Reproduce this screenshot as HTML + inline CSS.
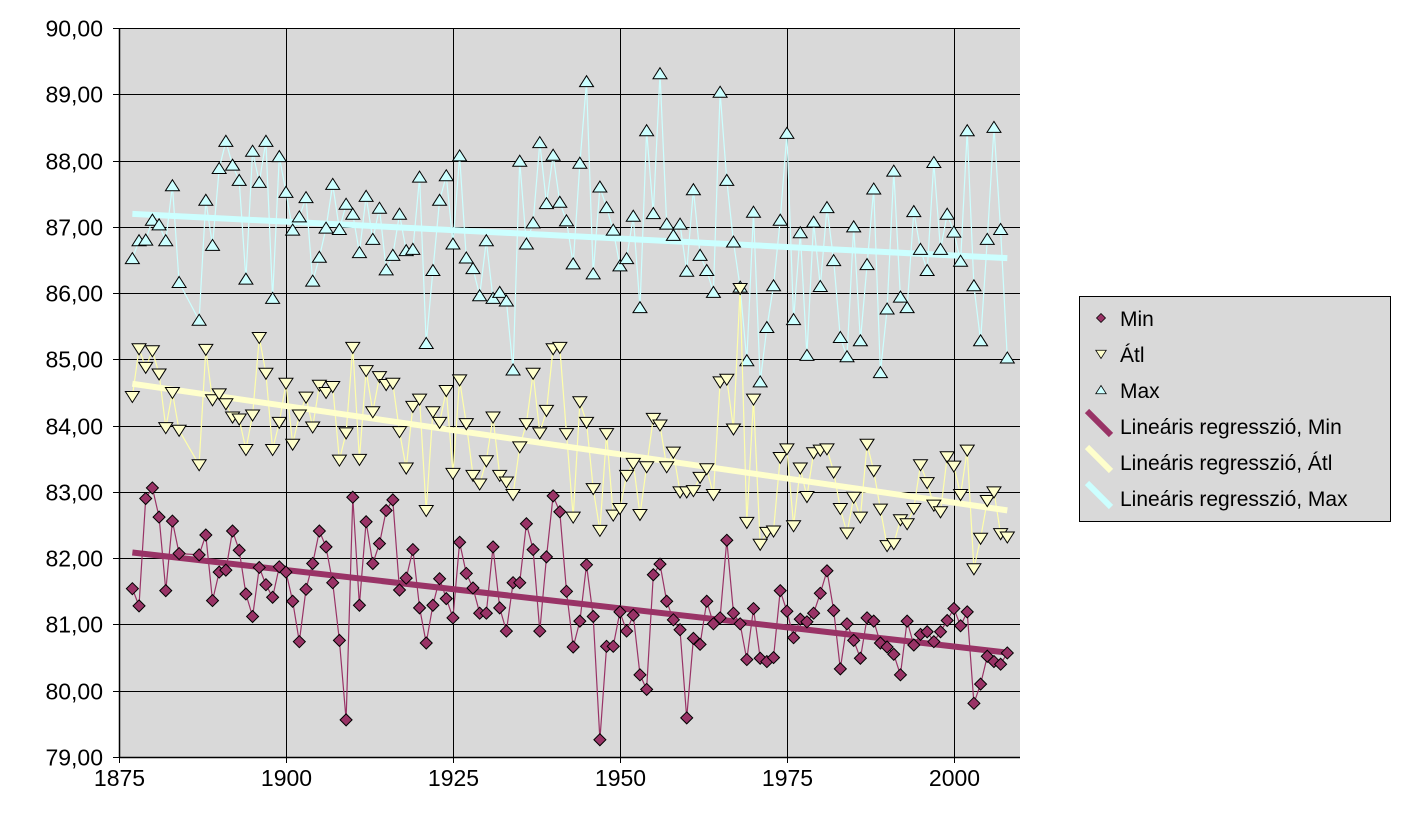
<!DOCTYPE html>
<html><head><meta charset="utf-8"><style>
body{margin:0;background:#fff;width:1416px;height:813px;overflow:hidden}
svg{display:block;font-family:"Liberation Sans",Arial,sans-serif}
</style></head><body>
<svg id="chart" width="1416" height="813" viewBox="0 0 1416 813"></svg>
<script>
const years=[1877,1878,1879,1880,1881,1882,1883,1884,1887,1888,1889,1890,1891,1892,1893,1894,1895,1896,1897,1898,1899,1900,1901,1902,1903,1904,1905,1906,1907,1908,1909,1910,1911,1912,1913,1914,1915,1916,1917,1918,1919,1920,1921,1922,1923,1924,1925,1926,1927,1928,1929,1930,1931,1932,1933,1934,1935,1936,1937,1938,1939,1940,1941,1942,1943,1944,1945,1946,1947,1948,1949,1950,1951,1952,1953,1954,1955,1956,1957,1958,1959,1960,1961,1962,1963,1964,1965,1966,1967,1968,1969,1970,1971,1972,1973,1974,1975,1976,1977,1978,1979,1980,1981,1982,1983,1984,1985,1986,1987,1988,1989,1990,1991,1992,1993,1994,1995,1996,1997,1998,1999,2000,2001,2002,2003,2004,2005,2006,2007,2008];
const maxVals=[86.52,86.79,86.80,87.10,87.03,86.79,87.62,86.16,85.59,87.40,86.72,87.88,88.29,87.93,87.70,86.21,88.14,87.67,88.29,85.92,88.06,87.52,86.95,87.15,87.44,86.18,86.54,86.98,87.64,86.96,87.34,87.19,86.61,87.46,86.81,87.28,86.35,86.57,87.19,86.64,86.66,87.75,85.24,86.34,87.40,87.77,86.74,88.07,86.53,86.37,85.96,86.79,85.92,86.01,85.88,84.84,87.99,86.74,87.06,88.27,87.35,88.08,87.37,87.09,86.44,87.96,89.19,86.29,87.60,87.29,86.95,86.41,86.52,87.16,85.78,88.45,87.20,89.31,87.04,86.87,87.04,86.33,87.56,86.57,86.34,86.01,89.03,87.70,86.77,86.09,84.98,87.22,84.66,85.48,86.11,87.10,88.41,85.60,86.91,85.06,87.07,86.10,87.29,86.49,85.33,85.04,87.00,85.28,86.43,87.57,84.80,85.76,87.84,85.94,85.78,87.23,86.66,86.34,87.97,86.66,87.19,86.92,86.48,88.45,86.11,85.28,86.81,88.50,86.96,85.02];
const atlVals=[84.44,85.16,84.88,85.13,84.78,83.97,84.50,83.93,83.41,85.15,84.39,84.48,84.33,84.13,84.10,83.64,84.16,85.33,84.79,83.64,84.05,84.64,83.72,84.16,84.43,83.98,84.61,84.50,84.59,83.48,83.89,85.18,83.49,84.83,84.21,84.74,84.62,84.64,83.91,83.36,84.29,84.40,82.72,84.21,84.05,84.53,83.28,84.69,84.03,83.25,83.12,83.47,84.13,83.25,83.15,82.96,83.68,84.03,84.79,83.89,84.23,85.16,85.18,83.88,82.62,84.36,84.05,83.05,82.42,83.88,82.65,82.75,83.25,83.43,82.66,83.38,84.11,84.01,83.38,83.60,83.00,83.00,83.02,83.22,83.35,82.96,84.66,84.70,83.95,86.07,82.54,84.40,82.21,82.39,82.41,83.52,83.65,82.49,83.36,82.93,83.59,83.63,83.65,83.30,82.75,82.38,82.92,82.62,83.72,83.32,82.74,82.19,82.22,82.58,82.52,82.75,83.41,83.14,82.80,82.70,83.53,83.39,82.96,83.63,81.84,82.30,82.87,83.00,82.37,82.32];
const minVals=[81.54,81.28,82.90,83.06,82.62,81.51,82.56,82.07,82.05,82.35,81.36,81.79,81.82,82.41,82.12,81.46,81.12,81.86,81.60,81.41,81.87,81.79,81.35,80.74,81.53,81.92,82.41,82.17,81.63,80.76,79.56,82.92,81.29,82.55,81.92,82.22,82.72,82.88,81.52,81.70,82.13,81.25,80.72,81.29,81.69,81.39,81.10,82.24,81.77,81.55,81.17,81.17,82.17,81.25,80.90,81.63,81.63,82.52,82.13,80.90,82.02,82.94,82.70,81.50,80.66,81.05,81.90,81.12,79.26,80.67,80.67,81.19,80.90,81.14,80.24,80.02,81.75,81.91,81.35,81.07,80.92,79.59,80.79,80.70,81.35,81.01,81.10,82.27,81.17,81.01,80.47,81.24,80.49,80.44,80.50,81.51,81.20,80.80,81.08,81.04,81.17,81.47,81.81,81.21,80.33,81.01,80.76,80.49,81.10,81.05,80.72,80.66,80.55,80.24,81.05,80.69,80.85,80.89,80.74,80.89,81.06,81.24,80.98,81.19,79.81,80.10,80.52,80.44,80.40,80.57];
const yTicks=[79,80,81,82,83,84,85,86,87,88,89,90];
const yTickLabels=["79,00","80,00","81,00","82,00","83,00","84,00","85,00","86,00","87,00","88,00","89,00","90,00"];
const xTicks=[1875,1900,1925,1950,1975,2000];
const xTickLabels=["1875","1900","1925","1950","1975","2000"];

const NS="http://www.w3.org/2000/svg";
const svg=document.getElementById('chart');
const L=119,R=1020,T=28,B=757,X0=1875,X1=2009.9,Y0=79,Y1=90;
const sx=v=>L+(v-X0)/(X1-X0)*(R-L);
const sy=v=>B-(v-Y0)/(Y1-Y0)*(B-T);
function mk(tag,attrs,parent){const e=document.createElementNS(NS,tag);for(const k in attrs)e.setAttribute(k,attrs[k]);(parent||svg).appendChild(e);return e;}

const bg=mk('rect',{x:L,y:T,width:R-L,height:B-T,fill:'#d9d9d9'});


const grid=mk('g',{stroke:'#000','stroke-width':1});


yTicks.forEach((t,i)=>{
  const y=Math.round(sy(t))+0.5;
  mk('line',{x1:L,x2:R,y1:y,y2:y},grid);
  mk('line',{x1:L-6,x2:L,y1:y,y2:y},grid);
  const tx=mk('text',{x:103,y:y+8,'text-anchor':'end','font-size':23,fill:'#000'});
  tx.textContent=yTickLabels[i];
  
  
});
xTicks.forEach((t,i)=>{
  const x=Math.round(sx(t))+0.5;
  mk('line',{x1:x,x2:x,y1:T,y2:B+6},grid);
  const tx=mk('text',{x:x,y:786,'text-anchor':'middle','font-size':23,fill:'#000'});
  tx.textContent=xTickLabels[i];
  
  
});
mk('line',{x1:L+0.5,x2:L+0.5,y1:T,y2:B,stroke:'#000','stroke-width':1.5});
mk('line',{x1:L,x2:R,y1:B+0.5,y2:B+0.5,stroke:'#000','stroke-width':1.5});

function regress(vals){
  const n=years.length;let mx=0,my=0;
  for(let i=0;i<n;i++){mx+=years[i];my+=vals[i];}
  mx/=n;my/=n;let num=0,den=0;
  for(let i=0;i<n;i++){num+=(years[i]-mx)*(vals[i]-my);den+=(years[i]-mx)**2;}
  const b=num/den;return x=>my+b*(x-mx);
}
const series=[
 {name:'max',vals:maxVals,col:'#ccffff',line:'#ccffff',marker:'up'},
 {name:'atl',vals:atlVals,col:'#ffffcc',line:'#ffffaa',marker:'down'},
 {name:'min',vals:minVals,col:'#993366',line:'#993366',marker:'diamond'}
];
function marker(type,x,y,col,g){
  let p;
  if(type==='up')p=`${x},${y-6} ${x+7},${y+5} ${x-7},${y+5}`;
  else if(type==='down')p=`${x-7},${y-5} ${x+7},${y-5} ${x},${y+6}`;
  else p=`${x},${y-6} ${x+6},${y} ${x},${y+6} ${x-6},${y}`;
  return mk('polygon',{points:p,fill:col,stroke:'#000','stroke-width':1},g);
}
series.forEach(s=>{
  const g=mk('g',{});
  
  
  const pts=years.map((yr,i)=>sx(yr).toFixed(1)+','+sy(s.vals[i]).toFixed(1)).join(' ');
  mk('polyline',{points:pts,fill:'none',stroke:s.line,'stroke-width':1.2},g);
  const f=regress(s.vals);
  const rl=mk('line',{x1:sx(years[0]),y1:sy(f(years[0])),x2:sx(years[years.length-1]),y2:sy(f(years[years.length-1])),stroke:s.col,'stroke-width':6},g);
  
  
  years.forEach((yr,i)=>{
    const m=marker(s.marker,sx(yr),sy(s.vals[i]),s.col,g);
    
    
  });
});

// legend
const lg=mk('g',{});


mk('rect',{x:1079.5,y:296.5,width:311,height:225,fill:'#d9d9d9',stroke:'#000','stroke-width':1},lg);
const items=[
 {t:'Min',m:'diamond',c:'#993366'},{t:'Átl',m:'down',c:'#ffffcc'},{t:'Max',m:'up',c:'#ccffff'},
 {t:'Lineáris regresszió, Min',l:'#993366'},{t:'Lineáris regresszió, Átl',l:'#ffffcc'},{t:'Lineáris regresszió, Max',l:'#ccffff'}
];
items.forEach((it,i)=>{
  const cy=318+i*36;
  const eg=mk('g',{},lg);
  
  
  if(it.m){const m=marker(it.m,1101,cy,it.c,eg);m.setAttribute('transform',`translate(1101 ${cy}) scale(0.75) translate(-1101 ${-cy})`);}
  else mk('line',{x1:1087,y1:cy-15,x2:1111,y2:cy+9,stroke:it.l,'stroke-width':6},eg);
  const tx=mk('text',{x:1120,y:cy+8,'font-size':21,fill:'#000'},eg);
  tx.textContent=it.t;
});
</script>
</body></html>
